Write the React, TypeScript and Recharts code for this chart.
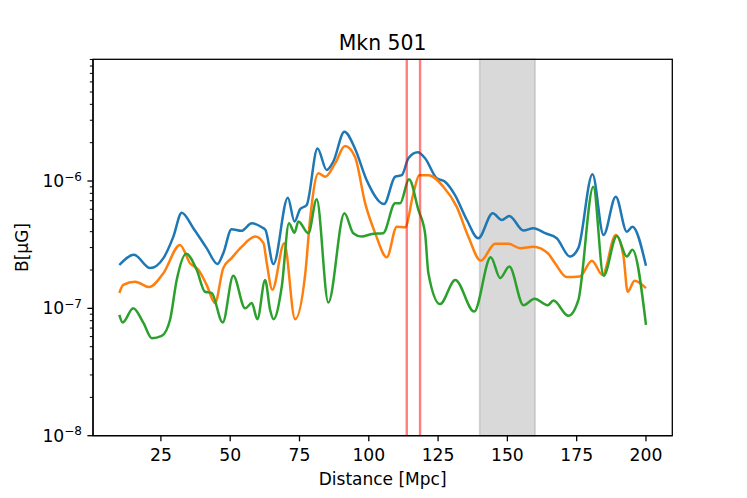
import React from 'react';
import { LineChart, Line, XAxis, YAxis, ReferenceArea, ReferenceLine } from 'recharts';

const blueSeries: [number, number][] = [
  [10, 2.19e-7], [15.3, 2.63e-7], [21.1, 2.07e-7], [25.9, 2.48e-7], [29.5, 3.66e-7],
  [32.5, 5.64e-7], [36.7, 4.26e-7], [41.5, 2.97e-7], [45.4, 2.23e-7], [47.5, 2.71e-7],
  [50.5, 4.18e-7], [54, 4.06e-7], [57.8, 4.66e-7], [61.4, 4.33e-7], [62.7, 4.13e-7],
  [65.6, 2.23e-7], [70.8, 7.4e-7], [73.2, 4.8e-7], [75.2, 6.0e-7], [77.6, 6.49e-7],
  [81.5, 1.8e-6], [84.8, 1.22e-6], [87.2, 1.42e-6], [91.2, 2.44e-6], [95, 1.8e-6],
  [99.2, 1.02e-6], [105.5, 6.6e-7], [109.5, 1.08e-6], [111.9, 1.11e-6], [114.3, 1.51e-6],
  [117.7, 1.68e-6], [120.3, 1.51e-6], [124.5, 1.05e-6], [127.5, 9.88e-7], [131.1, 7.76e-7],
  [135.4, 4.94e-7], [139.5, 3.55e-7], [144.7, 5.58e-7], [148, 4.94e-7], [150.7, 5.31e-7],
  [155.8, 4.08e-7], [159.4, 4.26e-7], [163.6, 3.89e-7], [167.8, 3.55e-7], [172.6, 2.55e-7],
  [175.6, 2.97e-7], [180.7, 1.13e-6], [184.7, 3.77e-7], [189.1, 7.53e-7], [193.1, 4.0e-7],
  [195.1, 4.38e-7], [200, 2.16e-7],
];

const orangeSeries: [number, number][] = [
  [10, 1.32e-7], [11.4, 1.53e-7], [15.7, 1.62e-7], [20.8, 1.47e-7], [25.9, 1.89e-7],
  [31.9, 3.15e-7], [35.5, 2.26e-7], [38.5, 2.01e-7], [41.5, 1.53e-7], [44.5, 1.1e-7],
  [47.5, 2.07e-7], [50.5, 2.48e-7], [54.2, 3.05e-7], [59, 3.66e-7], [62, 3.25e-7],
  [63.2, 2.26e-7], [65.2, 1.4e-7], [69.5, 3.25e-7], [73.4, 8.22e-8], [77.1, 1.89e-7],
  [78.8, 4.94e-7], [81.8, 1.15e-6], [84.3, 1.08e-6], [87.9, 1.38e-6], [91.4, 1.88e-6],
  [95, 1.55e-6], [98.7, 6.68e-7], [102.3, 3.9e-7], [106.5, 2.52e-7], [110.1, 4.38e-7],
  [113.1, 4.33e-7], [116.1, 8.01e-7], [118.2, 1.11e-6], [121.6, 1.11e-6], [126.9, 9.02e-7],
  [131.7, 6.29e-7], [135.9, 3.66e-7], [140.4, 2.37e-7], [145.6, 3.21e-7], [150.4, 3.21e-7],
  [154.6, 2.97e-7], [159.4, 3.05e-7], [164.6, 2.71e-7], [167.2, 2.26e-7], [171.4, 1.76e-7],
  [176.1, 1.78e-7], [180.5, 2.37e-7], [184.3, 1.83e-7], [189.1, 3.77e-7], [191.9, 2.55e-7],
  [193.4, 1.35e-7], [195.9, 1.65e-7], [200, 1.44e-7],
];

const greenSeries: [number, number][] = [
  [10, 8.89e-8], [11.2, 7.75e-8], [15, 1.0e-7], [18.7, 7.68e-8], [21.7, 5.83e-8],
  [25.3, 6.08e-8], [28.3, 8.13e-8], [30.7, 1.67e-7], [34.1, 2.68e-7], [37.9, 2.01e-7],
  [40.9, 1.35e-7], [43.3, 1.32e-7], [47.3, 7.75e-8], [51.1, 1.8e-7], [55.4, 1.0e-7],
  [57.8, 1.1e-7], [59.8, 8.22e-8], [62.6, 1.67e-7], [64.4, 9.72e-8], [65.6, 8.22e-8],
  [68.6, 1.48e-7], [71.2, 4.66e-7], [73.2, 3.93e-7], [74.6, 4.8e-7], [78.2, 3.89e-7],
  [81.2, 7.18e-7], [85.4, 1.11e-7], [91.2, 5.58e-7], [94.4, 3.89e-7], [97.4, 3.66e-7],
  [101.1, 3.84e-7], [105.2, 3.89e-7], [109.5, 6.68e-7], [111.3, 6.68e-7], [114.5, 1.03e-6],
  [117.9, 5.93e-7], [120.3, 3.89e-7], [121.5, 1.89e-7], [125.7, 1.08e-7], [131.2, 1.67e-7],
  [138, 9.44e-8], [144, 2.52e-7], [147.4, 1.73e-7], [150.7, 2.13e-7], [155.8, 1.06e-7],
  [159.8, 1.19e-7], [164.6, 1.06e-7], [166.6, 1.15e-7], [172, 8.73e-8], [175.6, 1.16e-7],
  [181, 9.02e-7], [184.7, 1.8e-7], [189.5, 3.7e-7], [193.1, 2.55e-7], [195.1, 2.88e-7],
  [200, 7.43e-8],
];

const xTicks = [25, 50, 75, 100, 125, 150, 175, 200];
const xDomain: [number, number] = [0.5, 209.5];
const yDomain: [number, number] = [1e-8, 9.03e-6];
const yMajorExps = [-8, -7, -6];
const redLines = [113.7, 118.5];
const grayBand: [number, number] = [140, 160];

const yTicks: number[] = [];
yMajorExps.forEach((e) => {
  for (let m = 1; m <= 9; m++) {
    const v = m * Math.pow(10, e);
    if (v <= yDomain[1] * 1.0001) yTicks.push(v);
  }
});

const toRows = (s: [number, number][]) => s.map(([x, v]) => ({ x, v }));

const FONT = 'DejaVu Sans';
const W = 747;
const H = 498;
const PLOT = { left: 93, top: 59.3, right: 672.3, bottom: 435.7 };
const TICK_FS = 17.2;
const LABEL_FS = 17;
const TITLE_FS = 20.4;

const XTick = (props: any) => {
  const { x, y, payload } = props;
  return (
    <g>
      <line x1={x} x2={x} y1={y} y2={y + 5.6} stroke="#000" strokeWidth={1.3} />
      <text x={x} y={y + 25.3} textAnchor="middle" fontFamily={FONT} fontSize={TICK_FS} fill="#000">
        {payload.value}
      </text>
    </g>
  );
};

const YTick = (props: any) => {
  const { x, y, payload } = props;
  const v = payload.value as number;
  const lg = Math.log10(v);
  const isMajor = Math.abs(lg - Math.round(lg)) < 1e-6;
  const len = isMajor ? 5.6 : 3.2;
  return (
    <g>
      <line x1={x - len} x2={x} y1={y} y2={y} stroke="#000" strokeWidth={isMajor ? 1.3 : 1.0} />
      {isMajor && (
        <text x={x - 11} y={y + 6} textAnchor="end" fontFamily={FONT} fontSize={TICK_FS} fill="#000">
          <tspan>10</tspan>
          <tspan dy={-6.5} fontSize={TICK_FS * 0.7}>{'\u2212' + Math.abs(Math.round(lg))}</tspan>
        </text>
      )}
    </g>
  );
};

export default function App() {
  const yAxisW = 80;
  const xAxisH = 40;
  return (
    <div style={{ position: 'absolute', left: 0, top: 0, width: W, height: H, background: '#fff' }}>
      <LineChart
        width={W}
        height={H}
        margin={{
          top: PLOT.top,
          left: PLOT.left - yAxisW,
          right: W - PLOT.right,
          bottom: H - PLOT.bottom - xAxisH,
        }}
      >
        <XAxis
          dataKey="x"
          type="number"
          domain={xDomain}
          ticks={xTicks}
          allowDataOverflow
          height={xAxisH}
          tickSize={0}
          tickMargin={0}
          tickLine={false}
          axisLine={{ stroke: '#000', strokeWidth: 1.3 }}
          tick={<XTick />}
          interval={0}
        />
        <YAxis
          type="number"
          scale="log"
          domain={yDomain}
          ticks={yTicks}
          allowDataOverflow
          width={yAxisW}
          tickSize={0}
          tickMargin={0}
          tickLine={false}
          axisLine={{ stroke: '#000', strokeWidth: 1.3 }}
          tick={<YTick />}
          interval={0}
        />
        <ReferenceArea
          x1={grayBand[0]}
          x2={grayBand[1]}
          fill="#808080"
          fillOpacity={0.3}
          stroke="#808080"
          strokeOpacity={0.3}
          strokeWidth={1.6}
        />
        <Line data={toRows(blueSeries)} dataKey="v" type="monotone" stroke="#1f77b4" strokeWidth={2.5} dot={false} isAnimationActive={false} />
        <Line data={toRows(orangeSeries)} dataKey="v" type="monotone" stroke="#ff7f0e" strokeWidth={2.5} dot={false} isAnimationActive={false} />
        <Line data={toRows(greenSeries)} dataKey="v" type="monotone" stroke="#2ca02c" strokeWidth={2.5} dot={false} isAnimationActive={false} />
        {redLines.map((rx) => (
          <ReferenceLine key={rx} x={rx} stroke="#ff0000" strokeOpacity={0.5} strokeWidth={2.4} />
        ))}
      </LineChart>
      <svg
        width={W}
        height={H}
        style={{ position: 'absolute', left: 0, top: 0, pointerEvents: 'none' }}
      >
        <rect
          x={PLOT.left}
          y={PLOT.top}
          width={PLOT.right - PLOT.left}
          height={PLOT.bottom - PLOT.top}
          fill="none"
          stroke="#000"
          strokeWidth={1.3}
        />
        <text x={(PLOT.left + PLOT.right) / 2} y={49.6} textAnchor="middle" fontFamily={FONT} fontSize={TITLE_FS} fill="#000">
          Mkn 501
        </text>
        <text x={(PLOT.left + PLOT.right) / 2} y={485} textAnchor="middle" fontFamily={FONT} fontSize={LABEL_FS} fill="#000">
          Distance [Mpc]
        </text>
        <text
          x={22}
          y={(PLOT.top + PLOT.bottom) / 2}
          textAnchor="middle"
          dominantBaseline="central"
          fontFamily={FONT}
          fontSize={LABEL_FS}
          fill="#000"
          transform={`rotate(-90 22 ${(PLOT.top + PLOT.bottom) / 2})`}
        >
          B[μG]
        </text>
      </svg>
    </div>
  );
}
